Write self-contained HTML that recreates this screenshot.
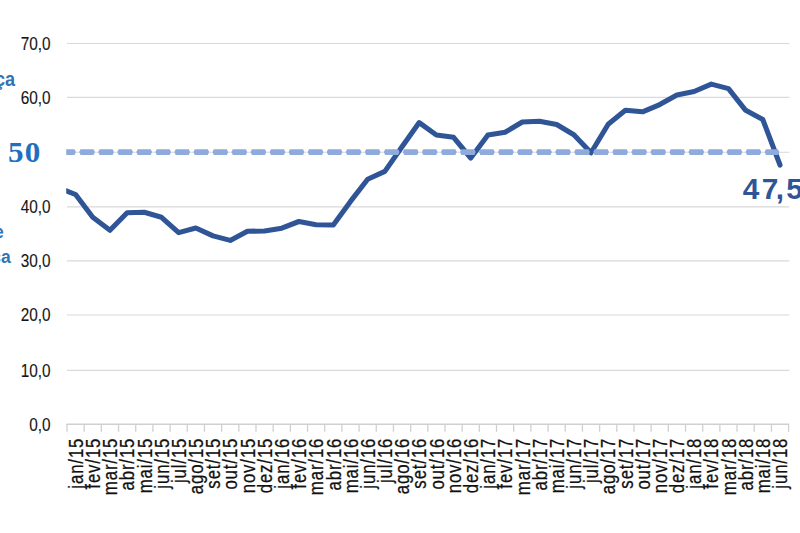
<!DOCTYPE html>
<html><head><meta charset="utf-8"><style>
html,body{margin:0;padding:0;background:#fff;}
body{width:800px;height:533px;overflow:hidden;position:relative;}
svg{position:absolute;left:0;top:0;}
text{font-family:"Liberation Sans",sans-serif;}
.yl{font-size:19.1px;fill:#151515;stroke:#151515;stroke-width:0.12px;}
.xl{font-size:20.5px;fill:#111;stroke:#111;stroke-width:0.28px;}
.lab{font-size:29.8px;font-weight:bold;fill:#2f5597;}
.l50{font-family:"Liberation Serif",serif;font-size:30.5px;font-weight:bold;fill:#2170c0;}
.side1{font-size:19.5px;font-weight:bold;fill:#2e75b6;}
.side2{font-size:17.5px;font-weight:bold;fill:#2e75b6;}
</style></head><body>
<svg width="800" height="533" viewBox="0 0 800 533">
<defs><clipPath id="pc"><rect x="66.2" y="0" width="722.4" height="533"/></clipPath></defs>
<line x1="67.0" y1="370.40" x2="789.4" y2="370.40" stroke="#d9d9d9" stroke-width="1.1"/>
<line x1="67.0" y1="315.00" x2="789.4" y2="315.00" stroke="#d9d9d9" stroke-width="1.1"/>
<line x1="67.0" y1="260.90" x2="789.4" y2="260.90" stroke="#d9d9d9" stroke-width="1.1"/>
<line x1="67.0" y1="206.90" x2="789.4" y2="206.90" stroke="#d9d9d9" stroke-width="1.1"/>
<line x1="67.0" y1="152.20" x2="789.4" y2="152.20" stroke="#d9d9d9" stroke-width="1.1"/>
<line x1="67.0" y1="97.40" x2="789.4" y2="97.40" stroke="#d9d9d9" stroke-width="1.1"/>
<line x1="67.0" y1="43.50" x2="789.4" y2="43.50" stroke="#d9d9d9" stroke-width="1.1"/>
<line x1="66.4" y1="424.30" x2="789.2" y2="424.30" stroke="#d0d0d0" stroke-width="1.4"/>
<line x1="67.00" y1="424.00" x2="67.00" y2="431.80" stroke="#d0d0d0" stroke-width="1.3"/>
<line x1="84.18" y1="424.00" x2="84.18" y2="431.80" stroke="#d0d0d0" stroke-width="1.3"/>
<line x1="101.36" y1="424.00" x2="101.36" y2="431.80" stroke="#d0d0d0" stroke-width="1.3"/>
<line x1="118.54" y1="424.00" x2="118.54" y2="431.80" stroke="#d0d0d0" stroke-width="1.3"/>
<line x1="135.72" y1="424.00" x2="135.72" y2="431.80" stroke="#d0d0d0" stroke-width="1.3"/>
<line x1="152.90" y1="424.00" x2="152.90" y2="431.80" stroke="#d0d0d0" stroke-width="1.3"/>
<line x1="170.09" y1="424.00" x2="170.09" y2="431.80" stroke="#d0d0d0" stroke-width="1.3"/>
<line x1="187.27" y1="424.00" x2="187.27" y2="431.80" stroke="#d0d0d0" stroke-width="1.3"/>
<line x1="204.45" y1="424.00" x2="204.45" y2="431.80" stroke="#d0d0d0" stroke-width="1.3"/>
<line x1="221.63" y1="424.00" x2="221.63" y2="431.80" stroke="#d0d0d0" stroke-width="1.3"/>
<line x1="238.81" y1="424.00" x2="238.81" y2="431.80" stroke="#d0d0d0" stroke-width="1.3"/>
<line x1="255.99" y1="424.00" x2="255.99" y2="431.80" stroke="#d0d0d0" stroke-width="1.3"/>
<line x1="273.17" y1="424.00" x2="273.17" y2="431.80" stroke="#d0d0d0" stroke-width="1.3"/>
<line x1="290.35" y1="424.00" x2="290.35" y2="431.80" stroke="#d0d0d0" stroke-width="1.3"/>
<line x1="307.53" y1="424.00" x2="307.53" y2="431.80" stroke="#d0d0d0" stroke-width="1.3"/>
<line x1="324.71" y1="424.00" x2="324.71" y2="431.80" stroke="#d0d0d0" stroke-width="1.3"/>
<line x1="341.90" y1="424.00" x2="341.90" y2="431.80" stroke="#d0d0d0" stroke-width="1.3"/>
<line x1="359.08" y1="424.00" x2="359.08" y2="431.80" stroke="#d0d0d0" stroke-width="1.3"/>
<line x1="376.26" y1="424.00" x2="376.26" y2="431.80" stroke="#d0d0d0" stroke-width="1.3"/>
<line x1="393.44" y1="424.00" x2="393.44" y2="431.80" stroke="#d0d0d0" stroke-width="1.3"/>
<line x1="410.62" y1="424.00" x2="410.62" y2="431.80" stroke="#d0d0d0" stroke-width="1.3"/>
<line x1="427.80" y1="424.00" x2="427.80" y2="431.80" stroke="#d0d0d0" stroke-width="1.3"/>
<line x1="444.98" y1="424.00" x2="444.98" y2="431.80" stroke="#d0d0d0" stroke-width="1.3"/>
<line x1="462.16" y1="424.00" x2="462.16" y2="431.80" stroke="#d0d0d0" stroke-width="1.3"/>
<line x1="479.34" y1="424.00" x2="479.34" y2="431.80" stroke="#d0d0d0" stroke-width="1.3"/>
<line x1="496.52" y1="424.00" x2="496.52" y2="431.80" stroke="#d0d0d0" stroke-width="1.3"/>
<line x1="513.70" y1="424.00" x2="513.70" y2="431.80" stroke="#d0d0d0" stroke-width="1.3"/>
<line x1="530.89" y1="424.00" x2="530.89" y2="431.80" stroke="#d0d0d0" stroke-width="1.3"/>
<line x1="548.07" y1="424.00" x2="548.07" y2="431.80" stroke="#d0d0d0" stroke-width="1.3"/>
<line x1="565.25" y1="424.00" x2="565.25" y2="431.80" stroke="#d0d0d0" stroke-width="1.3"/>
<line x1="582.43" y1="424.00" x2="582.43" y2="431.80" stroke="#d0d0d0" stroke-width="1.3"/>
<line x1="599.61" y1="424.00" x2="599.61" y2="431.80" stroke="#d0d0d0" stroke-width="1.3"/>
<line x1="616.79" y1="424.00" x2="616.79" y2="431.80" stroke="#d0d0d0" stroke-width="1.3"/>
<line x1="633.97" y1="424.00" x2="633.97" y2="431.80" stroke="#d0d0d0" stroke-width="1.3"/>
<line x1="651.15" y1="424.00" x2="651.15" y2="431.80" stroke="#d0d0d0" stroke-width="1.3"/>
<line x1="668.33" y1="424.00" x2="668.33" y2="431.80" stroke="#d0d0d0" stroke-width="1.3"/>
<line x1="685.51" y1="424.00" x2="685.51" y2="431.80" stroke="#d0d0d0" stroke-width="1.3"/>
<line x1="702.70" y1="424.00" x2="702.70" y2="431.80" stroke="#d0d0d0" stroke-width="1.3"/>
<line x1="719.88" y1="424.00" x2="719.88" y2="431.80" stroke="#d0d0d0" stroke-width="1.3"/>
<line x1="737.06" y1="424.00" x2="737.06" y2="431.80" stroke="#d0d0d0" stroke-width="1.3"/>
<line x1="754.24" y1="424.00" x2="754.24" y2="431.80" stroke="#d0d0d0" stroke-width="1.3"/>
<line x1="771.42" y1="424.00" x2="771.42" y2="431.80" stroke="#d0d0d0" stroke-width="1.3"/>
<line x1="788.60" y1="424.00" x2="788.60" y2="431.80" stroke="#d0d0d0" stroke-width="1.3"/>
<text transform="translate(50.6,431.00) scale(0.805,1)" text-anchor="end" class="yl">0,0</text>
<text transform="translate(50.6,376.80) scale(0.805,1)" text-anchor="end" class="yl">10,0</text>
<text transform="translate(50.6,321.40) scale(0.805,1)" text-anchor="end" class="yl">20,0</text>
<text transform="translate(50.6,267.30) scale(0.805,1)" text-anchor="end" class="yl">30,0</text>
<text transform="translate(50.6,213.30) scale(0.805,1)" text-anchor="end" class="yl">40,0</text>
<text transform="translate(50.6,103.80) scale(0.805,1)" text-anchor="end" class="yl">60,0</text>
<text transform="translate(50.6,49.90) scale(0.805,1)" text-anchor="end" class="yl">70,0</text>
<text transform="translate(82.79,437.7) rotate(-90) scale(0.82,1)" text-anchor="end" class="xl" letter-spacing="1.05">jan/15</text>
<text transform="translate(99.97,437.7) rotate(-90) scale(0.82,1)" text-anchor="end" class="xl" letter-spacing="1.05">fev/15</text>
<text transform="translate(117.15,437.7) rotate(-90) scale(0.82,1)" text-anchor="end" class="xl" letter-spacing="1.05">mar/15</text>
<text transform="translate(134.33,437.7) rotate(-90) scale(0.82,1)" text-anchor="end" class="xl" letter-spacing="1.05">abr/15</text>
<text transform="translate(151.51,437.7) rotate(-90) scale(0.82,1)" text-anchor="end" class="xl" letter-spacing="1.05">mai/15</text>
<text transform="translate(168.70,437.7) rotate(-90) scale(0.82,1)" text-anchor="end" class="xl" letter-spacing="1.05">jun/15</text>
<text transform="translate(185.88,437.7) rotate(-90) scale(0.82,1)" text-anchor="end" class="xl" letter-spacing="1.05">jul/15</text>
<text transform="translate(203.06,437.7) rotate(-90) scale(0.82,1)" text-anchor="end" class="xl" letter-spacing="1.05">ago/15</text>
<text transform="translate(220.24,437.7) rotate(-90) scale(0.82,1)" text-anchor="end" class="xl" letter-spacing="1.05">set/15</text>
<text transform="translate(237.42,437.7) rotate(-90) scale(0.82,1)" text-anchor="end" class="xl" letter-spacing="1.05">out/15</text>
<text transform="translate(254.60,437.7) rotate(-90) scale(0.82,1)" text-anchor="end" class="xl" letter-spacing="1.05">nov/15</text>
<text transform="translate(271.78,437.7) rotate(-90) scale(0.82,1)" text-anchor="end" class="xl" letter-spacing="1.05">dez/15</text>
<text transform="translate(288.96,437.7) rotate(-90) scale(0.82,1)" text-anchor="end" class="xl" letter-spacing="1.05">jan/16</text>
<text transform="translate(306.14,437.7) rotate(-90) scale(0.82,1)" text-anchor="end" class="xl" letter-spacing="1.05">fev/16</text>
<text transform="translate(323.32,437.7) rotate(-90) scale(0.82,1)" text-anchor="end" class="xl" letter-spacing="1.05">mar/16</text>
<text transform="translate(340.50,437.7) rotate(-90) scale(0.82,1)" text-anchor="end" class="xl" letter-spacing="1.05">abr/16</text>
<text transform="translate(357.69,437.7) rotate(-90) scale(0.82,1)" text-anchor="end" class="xl" letter-spacing="1.05">mai/16</text>
<text transform="translate(374.87,437.7) rotate(-90) scale(0.82,1)" text-anchor="end" class="xl" letter-spacing="1.05">jun/16</text>
<text transform="translate(392.05,437.7) rotate(-90) scale(0.82,1)" text-anchor="end" class="xl" letter-spacing="1.05">jul/16</text>
<text transform="translate(409.23,437.7) rotate(-90) scale(0.82,1)" text-anchor="end" class="xl" letter-spacing="1.05">ago/16</text>
<text transform="translate(426.41,437.7) rotate(-90) scale(0.82,1)" text-anchor="end" class="xl" letter-spacing="1.05">set/16</text>
<text transform="translate(443.59,437.7) rotate(-90) scale(0.82,1)" text-anchor="end" class="xl" letter-spacing="1.05">out/16</text>
<text transform="translate(460.77,437.7) rotate(-90) scale(0.82,1)" text-anchor="end" class="xl" letter-spacing="1.05">nov/16</text>
<text transform="translate(477.95,437.7) rotate(-90) scale(0.82,1)" text-anchor="end" class="xl" letter-spacing="1.05">dez/16</text>
<text transform="translate(495.13,437.7) rotate(-90) scale(0.82,1)" text-anchor="end" class="xl" letter-spacing="1.05">jan/17</text>
<text transform="translate(512.31,437.7) rotate(-90) scale(0.82,1)" text-anchor="end" class="xl" letter-spacing="1.05">fev/17</text>
<text transform="translate(529.50,437.7) rotate(-90) scale(0.82,1)" text-anchor="end" class="xl" letter-spacing="1.05">mar/17</text>
<text transform="translate(546.68,437.7) rotate(-90) scale(0.82,1)" text-anchor="end" class="xl" letter-spacing="1.05">abr/17</text>
<text transform="translate(563.86,437.7) rotate(-90) scale(0.82,1)" text-anchor="end" class="xl" letter-spacing="1.05">mai/17</text>
<text transform="translate(581.04,437.7) rotate(-90) scale(0.82,1)" text-anchor="end" class="xl" letter-spacing="1.05">jun/17</text>
<text transform="translate(598.22,437.7) rotate(-90) scale(0.82,1)" text-anchor="end" class="xl" letter-spacing="1.05">jul/17</text>
<text transform="translate(615.40,437.7) rotate(-90) scale(0.82,1)" text-anchor="end" class="xl" letter-spacing="1.05">ago/17</text>
<text transform="translate(632.58,437.7) rotate(-90) scale(0.82,1)" text-anchor="end" class="xl" letter-spacing="1.05">set/17</text>
<text transform="translate(649.76,437.7) rotate(-90) scale(0.82,1)" text-anchor="end" class="xl" letter-spacing="1.05">out/17</text>
<text transform="translate(666.94,437.7) rotate(-90) scale(0.82,1)" text-anchor="end" class="xl" letter-spacing="1.05">nov/17</text>
<text transform="translate(684.12,437.7) rotate(-90) scale(0.82,1)" text-anchor="end" class="xl" letter-spacing="1.05">dez/17</text>
<text transform="translate(701.30,437.7) rotate(-90) scale(0.82,1)" text-anchor="end" class="xl" letter-spacing="1.05">jan/18</text>
<text transform="translate(718.49,437.7) rotate(-90) scale(0.82,1)" text-anchor="end" class="xl" letter-spacing="1.05">fev/18</text>
<text transform="translate(735.67,437.7) rotate(-90) scale(0.82,1)" text-anchor="end" class="xl" letter-spacing="1.05">mar/18</text>
<text transform="translate(752.85,437.7) rotate(-90) scale(0.82,1)" text-anchor="end" class="xl" letter-spacing="1.05">abr/18</text>
<text transform="translate(770.03,437.7) rotate(-90) scale(0.82,1)" text-anchor="end" class="xl" letter-spacing="1.05">mai/18</text>
<text transform="translate(787.21,437.7) rotate(-90) scale(0.82,1)" text-anchor="end" class="xl" letter-spacing="1.05">jun/18</text>
<g clip-path="url(#pc)">
<path d="M58.41,187.60 L75.59,194.50 L92.77,217.30 L109.95,230.30 L127.13,212.80 L144.31,212.30 L161.50,217.30 L178.68,232.60 L195.86,228.00 L213.04,235.90 L230.22,240.40 L247.40,231.30 L264.58,231.00 L281.76,228.20 L298.94,221.50 L316.12,224.80 L333.30,225.00 L350.49,201.40 L367.67,179.20 L384.85,171.40 L402.03,146.70 L419.21,122.60 L436.39,135.00 L453.57,137.30 L470.75,158.00 L487.93,135.00 L505.11,132.30 L522.30,122.00 L539.48,121.20 L556.66,124.50 L573.84,134.80 L591.02,152.80 L608.20,124.20 L625.38,110.30 L642.56,111.80 L659.74,104.60 L676.92,95.00 L694.10,91.50 L711.29,84.10 L728.47,88.60 L745.65,110.30 L762.83,119.60 L780.01,165.00" fill="none" stroke="#2f5597" stroke-width="5.1" stroke-linejoin="round" stroke-linecap="round"/>
<path d="M41.12,152.10L42.42,149.25L55.52,149.25L56.82,152.10L55.52,154.95L42.42,154.95ZM60.16,152.10L61.46,149.25L74.56,149.25L75.86,152.10L74.56,154.95L61.46,154.95ZM79.20,152.10L80.50,149.25L93.60,149.25L94.90,152.10L93.60,154.95L80.50,154.95ZM98.24,152.10L99.54,149.25L112.64,149.25L113.94,152.10L112.64,154.95L99.54,154.95ZM117.28,152.10L118.58,149.25L131.68,149.25L132.98,152.10L131.68,154.95L118.58,154.95ZM136.32,152.10L137.62,149.25L150.72,149.25L152.02,152.10L150.72,154.95L137.62,154.95ZM155.36,152.10L156.66,149.25L169.76,149.25L171.06,152.10L169.76,154.95L156.66,154.95ZM174.40,152.10L175.70,149.25L188.80,149.25L190.10,152.10L188.80,154.95L175.70,154.95ZM193.44,152.10L194.74,149.25L207.84,149.25L209.14,152.10L207.84,154.95L194.74,154.95ZM212.48,152.10L213.78,149.25L226.88,149.25L228.18,152.10L226.88,154.95L213.78,154.95ZM231.52,152.10L232.82,149.25L245.92,149.25L247.22,152.10L245.92,154.95L232.82,154.95ZM250.56,152.10L251.86,149.25L264.96,149.25L266.26,152.10L264.96,154.95L251.86,154.95ZM269.60,152.10L270.90,149.25L284.00,149.25L285.30,152.10L284.00,154.95L270.90,154.95ZM288.64,152.10L289.94,149.25L303.04,149.25L304.34,152.10L303.04,154.95L289.94,154.95ZM307.68,152.10L308.98,149.25L322.08,149.25L323.38,152.10L322.08,154.95L308.98,154.95ZM326.72,152.10L328.02,149.25L341.12,149.25L342.42,152.10L341.12,154.95L328.02,154.95ZM345.76,152.10L347.06,149.25L360.16,149.25L361.46,152.10L360.16,154.95L347.06,154.95ZM364.80,152.10L366.10,149.25L379.20,149.25L380.50,152.10L379.20,154.95L366.10,154.95ZM383.84,152.10L385.14,149.25L398.24,149.25L399.54,152.10L398.24,154.95L385.14,154.95ZM402.88,152.10L404.18,149.25L417.28,149.25L418.58,152.10L417.28,154.95L404.18,154.95ZM421.92,152.10L423.22,149.25L436.32,149.25L437.62,152.10L436.32,154.95L423.22,154.95ZM440.96,152.10L442.26,149.25L455.36,149.25L456.66,152.10L455.36,154.95L442.26,154.95ZM460.00,152.10L461.30,149.25L474.40,149.25L475.70,152.10L474.40,154.95L461.30,154.95ZM479.04,152.10L480.34,149.25L493.44,149.25L494.74,152.10L493.44,154.95L480.34,154.95ZM498.08,152.10L499.38,149.25L512.48,149.25L513.78,152.10L512.48,154.95L499.38,154.95ZM517.12,152.10L518.42,149.25L531.52,149.25L532.82,152.10L531.52,154.95L518.42,154.95ZM536.16,152.10L537.46,149.25L550.56,149.25L551.86,152.10L550.56,154.95L537.46,154.95ZM555.20,152.10L556.50,149.25L569.60,149.25L570.90,152.10L569.60,154.95L556.50,154.95ZM574.24,152.10L575.54,149.25L588.64,149.25L589.94,152.10L588.64,154.95L575.54,154.95ZM593.28,152.10L594.58,149.25L607.68,149.25L608.98,152.10L607.68,154.95L594.58,154.95ZM612.32,152.10L613.62,149.25L626.72,149.25L628.02,152.10L626.72,154.95L613.62,154.95ZM631.36,152.10L632.66,149.25L645.76,149.25L647.06,152.10L645.76,154.95L632.66,154.95ZM650.40,152.10L651.70,149.25L664.80,149.25L666.10,152.10L664.80,154.95L651.70,154.95ZM669.44,152.10L670.74,149.25L683.84,149.25L685.14,152.10L683.84,154.95L670.74,154.95ZM688.48,152.10L689.78,149.25L702.88,149.25L704.18,152.10L702.88,154.95L689.78,154.95ZM707.52,152.10L708.82,149.25L721.92,149.25L723.22,152.10L721.92,154.95L708.82,154.95ZM726.56,152.10L727.86,149.25L740.96,149.25L742.26,152.10L740.96,154.95L727.86,154.95ZM745.60,152.10L746.90,149.25L760.00,149.25L761.30,152.10L760.00,154.95L746.90,154.95ZM764.64,152.10L765.94,149.25L778.00,149.25L779.30,152.10L778.00,154.95L765.94,154.95Z" fill="#8faadc"/>
</g>
<text x="742.8 761.7 775.8 786.3" y="199.2" class="lab">47,5</text>
<text transform="translate(7.9,161.9) scale(1.02,1)" class="l50" letter-spacing="1.2">50</text>
<text transform="translate(15.2,85.8) scale(0.93,1)" text-anchor="end" class="side1">Confiança</text>
<text x="3.8" y="237.8" text-anchor="end" class="side2">de</text>
<text x="10.8" y="263" text-anchor="end" class="side2">Desconfiança</text>
</svg>
</body></html>
